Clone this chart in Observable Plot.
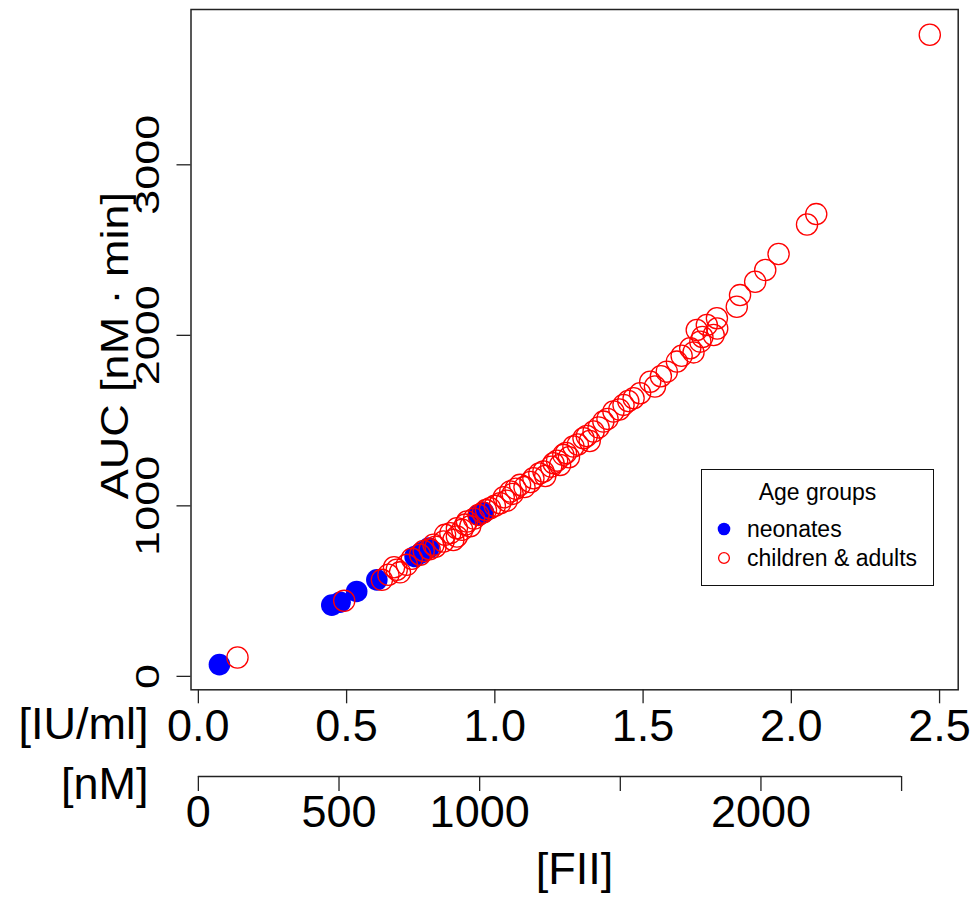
<!DOCTYPE html>
<html>
<head>
<meta charset="utf-8">
<script src="https://cdn.jsdelivr.net/npm/d3@7"></script>
<script src="https://cdn.jsdelivr.net/npm/@observablehq/plot@0.6"></script>
<style>
  html, body { margin: 0; padding: 0; background: #fff; }
  body { font-family: "Liberation Sans", Arial, Helvetica, sans-serif; }
  #wrap { position: relative; width: 979px; height: 901px; }
  #legend { position: absolute; left: 701px; top: 469px; width: 231px; height: 115px;
            border: 1.5px solid #111; background: #fff; color: #000; font-size: 23px; }
  #legend .title { position: absolute; left: 0; right: 0; top: 10px; line-height: 24px; text-align: center; }
  #legend .item { position: absolute; left: 0; height: 24px; line-height: 24px; white-space: nowrap; }
  #legend .item svg { position: absolute; left: 10px; top: 0; }
  #legend .item span { position: absolute; left: 45px; top: 0; }
</style>
</head>
<body>
<div id="wrap"></div>
<script>
// ---- data ----
// FII in IU/ml, AUC in nM*min
const neonatesX = [0.071, 0.450, 0.478, 0.534, 0.602, 0.731, 0.752, 0.777, 0.945, 0.962];
const neonatesY = [69, 418, 435, 498, 566, 703, 725, 752, 945, 962];

const adultsX = [0.132, 0.492, 0.619, 0.641, 0.660, 0.669, 0.680, 0.703, 0.720, 0.748, 0.760, 0.780,
  0.793, 0.800, 0.827, 0.832, 0.850, 0.860, 0.872, 0.872, 0.890, 0.900, 0.906, 0.917, 0.930, 0.945,
  0.960, 0.970, 0.984, 1.000, 1.018, 1.030, 1.040, 1.052, 1.060, 1.070, 1.085, 1.100, 1.120, 1.130,
  1.150, 1.164, 1.170, 1.190, 1.198, 1.210, 1.220, 1.231, 1.240, 1.250, 1.265, 1.280, 1.299, 1.310,
  1.320, 1.333, 1.350, 1.366, 1.380, 1.400, 1.420, 1.434, 1.450, 1.468, 1.490, 1.524, 1.540, 1.560,
  1.580, 1.614, 1.630, 1.659, 1.670, 1.681, 1.693, 1.700, 1.715, 1.738, 1.749, 1.750, 1.816, 1.827,
  1.878, 1.912, 1.957, 2.053, 2.084, 2.467];
const adultsY = [111, 443, 566, 596, 640, 625, 610, 654, 690, 713, 735, 745,
  772, 760, 791, 830, 840, 800, 820, 869, 860, 890, 908, 880, 925, 947,
  960, 975, 986, 1000, 1015, 1050, 1030, 1084, 1070, 1100, 1123, 1110, 1140, 1162,
  1190, 1201, 1175, 1230, 1250, 1265, 1240, 1299, 1310, 1285, 1348, 1360, 1396, 1410,
  1380, 1436, 1460, 1494, 1510, 1553, 1565, 1592, 1615, 1631, 1660, 1728, 1700, 1760,
  1787, 1846, 1880, 1924, 1900, 2031, 1963, 1990, 2061, 2002, 2100, 2040, 2168, 2236,
  2314, 2383, 2477, 2650, 2711, 3763];

const groupLabels = ["neonates", "children & adults"];
const groupColors = ["#0000ff", "#ff0000"];
const legendTitle = "Age groups";

const xTicks = [0, 0.5, 1.0, 1.5, 2.0, 2.5];
const yTicks = [0, 1000, 2000, 3000];
const nmTicks = [0, 500, 1000, 1500, 2000, 2500];
const nmTickLabels = ["0", "500", "1000", "", "2000", ""];
const NM_PER_IU = 1054;

const yTitle = "AUC [nM \u00b7 min]";
const xUnitIU = "[IU/ml]";
const xUnitNM = "[nM]";
const xTitle = "[FII]";

// ---- build ----
const neonates = neonatesX.map((x, i) => ({x, y: neonatesY[i]}));
const adults = adultsX.map((x, i) => ({x, y: adultsY[i]}));
const allX = neonatesX.concat(adultsX), allY = neonatesY.concat(adultsY);
const pad = (lo, hi) => [lo - 0.04 * (hi - lo), hi + 0.04 * (hi - lo)];
const xDomain = pad(d3.min(allX), d3.max(allX));
const yDomain = pad(d3.min(allY), d3.max(allY));

const FS = 45;
const font = "Liberation Sans, Arial, Helvetica, sans-serif";

const chart = Plot.plot({
  width: 979,
  height: 901,
  marginLeft: 190.5,
  marginRight: 21.3,
  marginTop: 9,
  marginBottom: 211.7,
  style: {fontFamily: font, background: "#fff", color: "#000", overflow: "visible"},
  x: {domain: xDomain, axis: null},
  y: {domain: yDomain, axis: null},
  marks: [
    Plot.frame({stroke: "#222", strokeWidth: 1.5}),
    Plot.axisY(yTicks, {anchor: "left", tickSize: 14, tickRotate: -90, tickPadding: 18.5,
      fontSize: FS, tickFormat: d => String(d), label: null, stroke: "#222", strokeWidth: 1.3,
      className: "ytick"}),
    Plot.axisX(xTicks, {anchor: "bottom", tickSize: 14, tickPadding: 5,
      fontSize: FS, tickFormat: d => d.toFixed(1), label: null, stroke: "#222", strokeWidth: 1.3}),
    // secondary axis in nM
    Plot.ruleY([yDomain[0]], {x1: nmTicks[0] / NM_PER_IU, x2: nmTicks[nmTicks.length - 1] / NM_PER_IU,
      dy: 86.7, stroke: "#222", strokeWidth: 1.3}),
    Plot.axisX(nmTicks.map(v => v / NM_PER_IU), {anchor: "bottom", dy: 86.7, tickSize: 15, tickPadding: 4,
      fontSize: FS, tickFormat: (d, i) => nmTickLabels[i], label: null, stroke: "#222", strokeWidth: 1.3}),
    Plot.text([xUnitIU], {frameAnchor: "bottom-left", dx: -42.5, dy: 48.7, textAnchor: "end",
      lineAnchor: "bottom", fontSize: FS}),
    Plot.text([xUnitNM], {frameAnchor: "bottom-left", dx: -42.5, dy: 108.7, textAnchor: "end",
      lineAnchor: "bottom", fontSize: FS}),
    Plot.text([xTitle], {frameAnchor: "bottom", dy: 193.7, textAnchor: "middle", lineAnchor: "bottom", fontSize: FS}),
    Plot.text([yTitle], {frameAnchor: "left", dx: -63.5, dy: -4, rotate: -90, textAnchor: "middle",
      lineAnchor: "bottom", fontSize: FS, className: "ytitle"}),
    // data
    Plot.dot(neonates, {x: "x", y: "y", r: 10.8, fill: groupColors[0], stroke: "none"}),
    Plot.dot(adults, {x: "x", y: "y", r: 10.6, fill: "none", stroke: groupColors[1], strokeWidth: 1.3})
  ]
});

// rotated labels in the reference are narrower across their baseline: squeeze them horizontally
function squeeze(sel, k) {
  chart.querySelectorAll(sel).forEach(t => {
    const tr = t.getAttribute("transform");
    if (tr && tr.includes("rotate")) t.setAttribute("transform", tr + ` scale(1,${k})`);
  });
}
squeeze(".ytick text", 0.75);
squeeze(".ytitle text", 0.85);

const wrap = document.getElementById("wrap");
wrap.appendChild(chart);

// legend (HTML, overlaid inside the plot area)
const legend = document.createElement("div");
legend.id = "legend";
const t = document.createElement("div");
t.className = "title";
t.textContent = legendTitle;
legend.appendChild(t);
groupLabels.forEach((lab, i) => {
  const row = document.createElement("div");
  row.className = "item";
  row.style.top = (i === 0 ? 47 : 76) + "px";
  const sw = i === 0
    ? `<circle cx="12" cy="12" r="6.3" fill="${groupColors[0]}"/>`
    : `<circle cx="12" cy="12" r="5.4" fill="none" stroke="${groupColors[1]}" stroke-width="1.3"/>`;
  row.innerHTML = `<svg width="24" height="24">${sw}</svg><span></span>`;
  row.querySelector("span").textContent = lab;
  legend.appendChild(row);
});
wrap.appendChild(legend);
</script>
</body>
</html>
